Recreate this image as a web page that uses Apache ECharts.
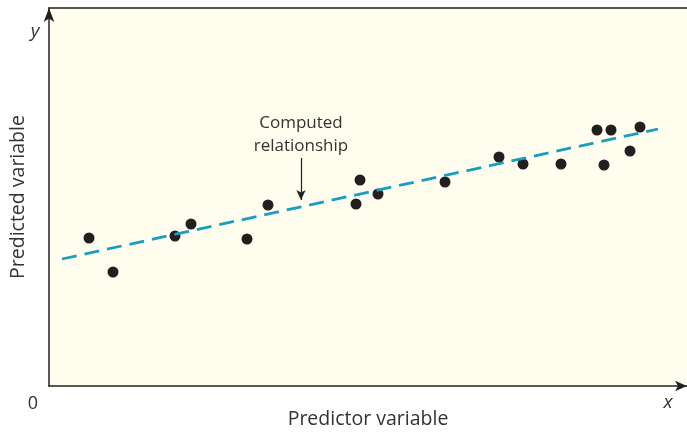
<!DOCTYPE html>
<html><head><meta charset="utf-8">
<script src="https://cdn.jsdelivr.net/npm/echarts@6/dist/echarts.min.js"></script>
<style>html,body{margin:0;padding:0;background:#fff}#c{width:687px;height:432px}</style>
</head><body><div id="c"></div>
<script>
// Data (arbitrary units)
const predictor = [40, 64, 126, 142, 198, 219, 307, 311, 329, 396, 450, 474, 512, 548, 555, 562, 581, 591];
const predicted = [148, 114, 150, 162, 147, 181, 182, 206, 192, 204, 229, 222, 222, 256, 221, 256, 235, 259];
const fitX = [13, 609];
const fitY = [127, 257];
const xName = 'Predictor variable';
const yName = 'Predicted variable';
const annotation = 'Computed\nrelationship';
const arrowFrom = [252, 228];
const arrowTo = [252, 186];

const font = '"Open Sans", sans-serif';
const txt = '#333';
const chart = echarts.init(document.getElementById('c'));
chart.setOption({
  animation: false,
  grid: {left: 49, right: 0, top: 8, bottom: 46, show: true, backgroundColor: '#fffdee', borderWidth: 0, outerBoundsMode: 'none', containLabel: false},
  xAxis: [{
    type: 'value', min: 0, max: 638, position: 'bottom',
    axisLine: {show: true, lineStyle: {color: '#231f20', width: 1.5}, symbol: ['none', 'arrow'], symbolSize: [8, 12]},
    axisTick: {show: false}, axisLabel: {show: false}, splitLine: {show: false},
    name: xName, nameLocation: 'middle', nameGap: 23,
    nameTextStyle: {fontFamily: font, fontSize: 19.5, color: txt}
  }, {
    type: 'value', min: 0, max: 638, position: 'top',
    axisLine: {show: true, lineStyle: {color: '#231f20', width: 1.5}},
    axisTick: {show: false}, axisLabel: {show: false}, splitLine: {show: false}
  }],
  yAxis: {
    type: 'value', min: 0, max: 378,
    axisLine: {show: true, lineStyle: {color: '#231f20', width: 1.5}, symbol: ['none', 'arrow'], symbolSize: [8, 14]},
    axisTick: {show: false}, axisLabel: {show: false}, splitLine: {show: false},
    name: yName, nameLocation: 'middle', nameGap: 21,
    nameTextStyle: {fontFamily: font, fontSize: 19.5, color: txt}
  },
  series: [{
    type: 'line', data: fitX.map((x, i) => [x, fitY[i]]), showSymbol: false, symbol: 'none',
    lineStyle: {color: '#1a9dc0', width: 2.8, type: [15, 8]},
    markLine: {
      silent: true, symbol: ['none', 'arrow'], symbolSize: [7, 10],
      lineStyle: {color: '#231f20', width: 1.2, type: 'solid'},
      label: {show: false},
      data: [[{coord: arrowFrom}, {coord: arrowTo}]]
    }
  }, {
    type: 'scatter', data: predictor.map((x, i) => [x, predicted[i]]),
    symbolSize: 11, itemStyle: {color: '#231f20', opacity: 1}
  }],
  graphic: [
    {type: 'text', style: {text: annotation, x: 301, y: 112, textAlign: 'center', font: '17px ' + font, fill: txt, lineHeight: 23}},
    {type: 'text', style: {text: '0', x: 33, y: 404, textAlign: 'center', textVerticalAlign: 'middle', font: '18px ' + font, fill: txt}},
    {type: 'text', style: {text: 'x', x: 668, y: 403, textAlign: 'center', textVerticalAlign: 'middle', font: 'italic 19px ' + font, fill: txt}},
    {type: 'text', style: {text: 'y', x: 35, y: 32, textAlign: 'center', textVerticalAlign: 'middle', font: 'italic 19px ' + font, fill: txt}}
  ]
});
</script></body></html>
